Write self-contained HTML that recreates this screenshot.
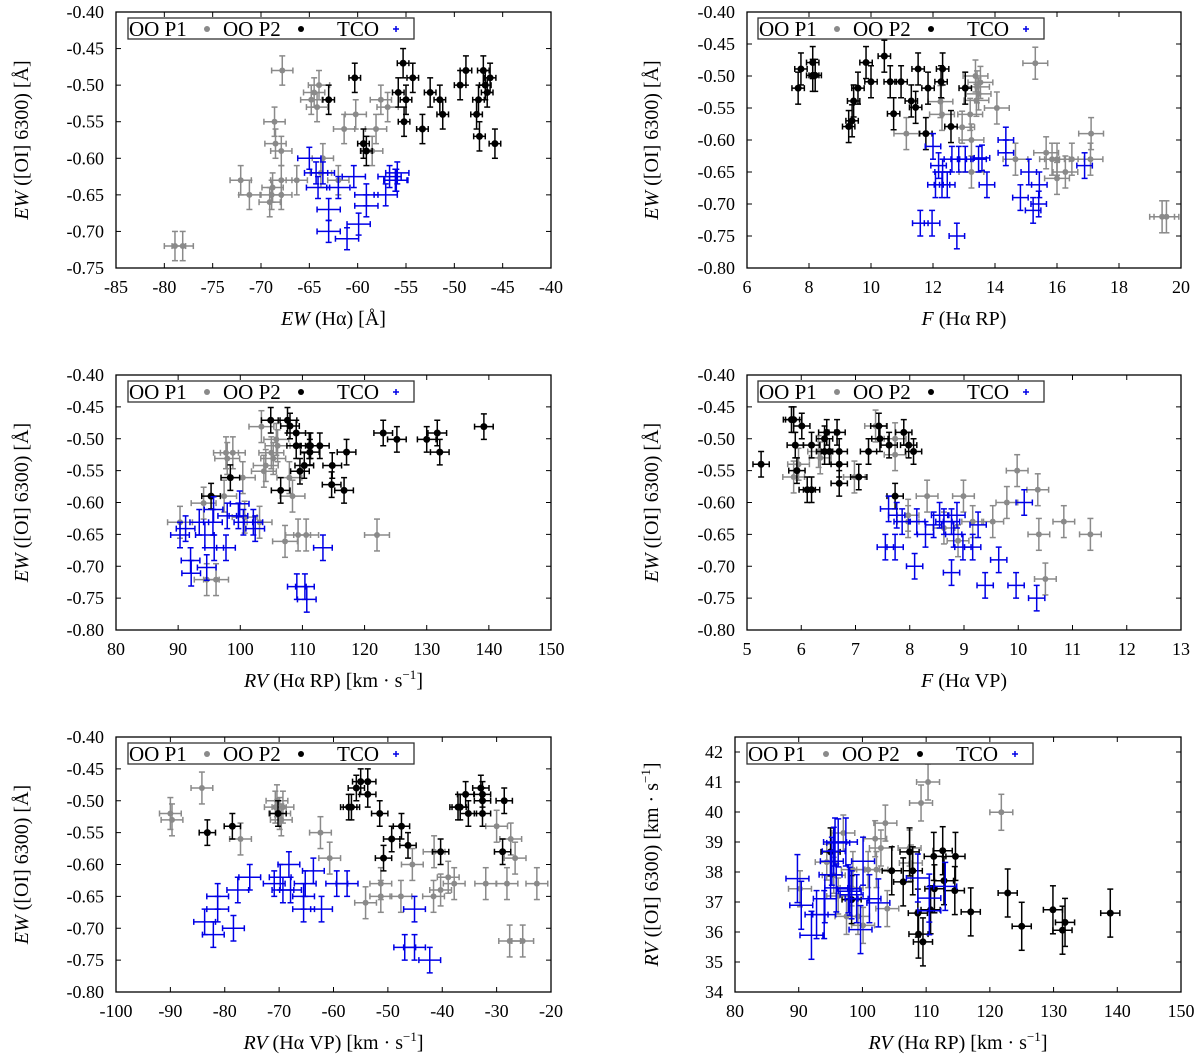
<!DOCTYPE html>
<html><head><meta charset="utf-8">
<style>
html,body{margin:0;padding:0;background:#fff;}
svg{display:block;font-family:"Liberation Serif",serif;}
</style></head>
<body>
<svg id="fig" width="1200" height="1056" viewBox="0 0 1200 1056" xmlns="http://www.w3.org/2000/svg"></svg>
<script>
// ---------- Panel 1: EW([OI]) vs EW(Ha) ----------
const p1GrayX=[-78.9,-78.1,-72.1,-71.2,-69.1,-68.9,-68.8,-68.5,-68.6,-67.9,-67.9,-67.9,-67.8,-66.3,-64.8,-64.5,-64.2,-64.0,-63.6,-63.8,-61.4,-60.2,-58.1,-57.6,-56.9,-58.5,-62.0];
const p1GrayY=[-0.72,-0.72,-0.63,-0.65,-0.66,-0.65,-0.64,-0.58,-0.55,-0.63,-0.59,-0.65,-0.48,-0.63,-0.52,-0.51,-0.53,-0.50,-0.60,-0.62,-0.56,-0.54,-0.56,-0.52,-0.53,-0.59,-0.63];
const p1BlackX=[-63.0,-60.3,-55.8,-55.3,-54.3,-55.0,-55.2,-53.3,-52.5,-51.5,-51.2,-59.4,-59.1,-49.4,-48.8,-47.7,-47.5,-47.4,-47.0,-46.8,-46.6,-46.3,-45.8];
const p1BlackY=[-0.52,-0.49,-0.51,-0.47,-0.49,-0.52,-0.55,-0.56,-0.51,-0.52,-0.54,-0.58,-0.59,-0.50,-0.48,-0.54,-0.52,-0.57,-0.48,-0.50,-0.51,-0.49,-0.58];
const p1BlueX=[-65.0,-64.1,-64.3,-63.6,-63.0,-63.0,-62.0,-61.1,-60.4,-59.9,-59.1,-59.1,-57.1,-56.7,-56.0,-56.1,-55.9];
const p1BlueY=[-0.60,-0.64,-0.62,-0.62,-0.67,-0.70,-0.64,-0.71,-0.625,-0.69,-0.65,-0.665,-0.65,-0.625,-0.63,-0.63,-0.62];
// ---------- Panel 2: EW([OI]) vs F(Ha RP) ----------
const p2BlackX=[7.65,7.74,8.12,8.12,8.2,9.28,9.39,9.44,9.58,9.84,10.0,10.43,10.62,10.73,10.97,11.3,11.44,11.52,11.77,11.84,12.26,12.31,12.58,13.04];
const p2BlackY=[-0.519,-0.489,-0.479,-0.499,-0.499,-0.579,-0.57,-0.539,-0.519,-0.479,-0.509,-0.469,-0.509,-0.559,-0.509,-0.539,-0.549,-0.489,-0.59,-0.519,-0.509,-0.489,-0.579,-0.519];
const p2GrayX=[11.14,12.24,12.29,12.94,13.2,13.24,13.24,13.37,13.42,13.47,13.53,14.06,14.66,15.3,15.65,15.84,16.0,16.0,16.27,16.48,17.08,17.1,19.39,19.53,13.4];
const p2GrayY=[-0.59,-0.54,-0.56,-0.58,-0.56,-0.60,-0.65,-0.50,-0.517,-0.528,-0.51,-0.55,-0.63,-0.48,-0.62,-0.63,-0.63,-0.66,-0.65,-0.63,-0.63,-0.59,-0.72,-0.72,-0.538];
const p2BlueX=[12.0,12.18,12.31,12.08,12.29,12.46,12.61,12.83,13.04,13.47,13.58,13.74,11.59,11.97,12.77,14.35,14.35,14.82,15.09,15.23,15.41,15.43,16.89];
const p2BlueY=[-0.61,-0.64,-0.65,-0.67,-0.67,-0.67,-0.63,-0.63,-0.63,-0.63,-0.628,-0.67,-0.73,-0.73,-0.75,-0.60,-0.62,-0.69,-0.65,-0.71,-0.70,-0.67,-0.64];
// ---------- Panel 3: EW([OI]) vs RV(Ha RP) ----------
const p3GrayX=[90.3,94.1,94.6,96.1,97.4,97.7,97.9,98.8,100.4,103.4,103.8,104.1,105.0,105.3,105.8,106.0,107.9,108.4,107.2,109.3,110.6,122.0,103.1,100.7];
const p3GrayY=[-0.631,-0.601,-0.721,-0.721,-0.59,-0.522,-0.531,-0.522,-0.561,-0.481,-0.551,-0.542,-0.522,-0.531,-0.501,-0.511,-0.561,-0.59,-0.661,-0.651,-0.651,-0.651,-0.631,-0.623];
const p3BlackX=[95.3,98.4,104.9,106.5,107.6,108.0,109.0,109.0,109.6,110.3,111.1,111.2,111.3,112.8,114.8,114.7,116.7,117.1,123.0,125.2,130.0,131.7,132.1,139.2];
const p3BlackY=[-0.59,-0.561,-0.471,-0.581,-0.471,-0.48,-0.491,-0.511,-0.551,-0.542,-0.511,-0.521,-0.511,-0.511,-0.542,-0.572,-0.581,-0.521,-0.491,-0.501,-0.501,-0.491,-0.521,-0.481];
const p3BlueX=[90.3,91.2,92.0,92.1,93.4,94.3,94.6,95.6,95.7,95.8,97.7,97.9,99.9,99.7,100.5,102.1,102.4,109.1,110.4,110.7,113.3];
const p3BlueY=[-0.651,-0.641,-0.691,-0.711,-0.631,-0.651,-0.702,-0.631,-0.611,-0.671,-0.671,-0.621,-0.602,-0.621,-0.631,-0.631,-0.641,-0.732,-0.732,-0.752,-0.671];
// ---------- Panel 4: EW([OI]) vs F(Ha VP) ----------
const p4BlackX=[5.26,5.82,5.86,5.89,5.92,6.01,6.11,6.19,6.19,6.43,6.43,6.47,6.52,6.66,6.70,6.70,6.70,7.06,7.24,7.43,7.45,7.62,7.73,7.89,7.98,8.07];
const p4BlackY=[-0.54,-0.47,-0.47,-0.51,-0.55,-0.48,-0.58,-0.51,-0.58,-0.50,-0.52,-0.49,-0.52,-0.49,-0.52,-0.54,-0.57,-0.56,-0.52,-0.48,-0.50,-0.51,-0.59,-0.49,-0.51,-0.52];
const p4GrayX=[5.86,5.95,6.32,6.35,6.98,7.37,7.73,7.73,7.97,7.97,8.32,8.63,8.89,8.99,9.16,9.53,9.79,9.98,10.36,10.38,10.5,10.84,11.33];
const p4GrayY=[-0.56,-0.54,-0.52,-0.53,-0.56,-0.48,-0.50,-0.525,-0.63,-0.62,-0.59,-0.64,-0.66,-0.59,-0.63,-0.63,-0.60,-0.55,-0.58,-0.65,-0.72,-0.63,-0.65];
const p4BlueX=[7.55,7.61,7.73,7.76,7.86,8.09,8.13,8.29,8.44,8.55,8.63,8.77,8.77,8.81,8.87,8.98,9.16,9.26,9.39,9.64,9.96,10.11,10.34];
const p4BlueY=[-0.67,-0.61,-0.67,-0.62,-0.63,-0.70,-0.63,-0.65,-0.635,-0.62,-0.63,-0.71,-0.63,-0.65,-0.62,-0.67,-0.67,-0.635,-0.73,-0.69,-0.73,-0.60,-0.75];
// ---------- Panel 5: EW([OI]) vs RV(Ha VP) ----------
const p5GrayX=[-90.0,-89.7,-84.2,-77.1,-70.7,-70.4,-69.9,-69.6,-69.3,-62.4,-60.7,-54.1,-51.3,-51.3,-47.6,-45.5,-41.6,-41.5,-40.3,-38.9,-37.8,-30.0,-32.0,-28.1,-27.4,-26.6,-27.6,-25.2,-22.6];
const p5GrayY=[-0.52,-0.53,-0.48,-0.56,-0.51,-0.50,-0.52,-0.53,-0.51,-0.55,-0.59,-0.66,-0.63,-0.65,-0.65,-0.60,-0.65,-0.58,-0.64,-0.62,-0.63,-0.54,-0.63,-0.63,-0.56,-0.59,-0.72,-0.72,-0.63];
const p5BlackX=[-83.2,-78.6,-70.2,-57.2,-56.7,-55.8,-55.0,-53.7,-53.7,-51.5,-49.3,-47.5,-46.3,-50.8,-40.3,-37.1,-36.7,-35.7,-35.2,-32.9,-32.6,-32.6,-32.6,-28.9,-28.6];
const p5BlackY=[-0.55,-0.54,-0.52,-0.51,-0.51,-0.48,-0.47,-0.47,-0.49,-0.52,-0.56,-0.54,-0.57,-0.59,-0.58,-0.51,-0.51,-0.49,-0.52,-0.48,-0.49,-0.50,-0.52,-0.58,-0.50];
const p5BlueX=[-83.7,-82.1,-81.3,-81.3,-78.4,-77.6,-75.4,-70.9,-69.8,-69.3,-68.2,-67.9,-65.5,-65.5,-65.2,-63.7,-62.2,-59.4,-57.5,-46.9,-45.1,-45.1,-42.3];
const p5BlueY=[-0.69,-0.71,-0.65,-0.67,-0.70,-0.64,-0.62,-0.63,-0.62,-0.64,-0.60,-0.64,-0.65,-0.67,-0.63,-0.61,-0.67,-0.63,-0.63,-0.73,-0.73,-0.67,-0.75];
// ---------- Panel 6: RV([OI]) vs RV(Ha RP) ----------
const p6GrayX=[90.2,94.4,95.5,97.0,97.5,98.5,99.3,100.1,100.9,102.0,102.2,102.9,103.6,103.9,107.4,107.6,109.2,110.3,121.8,96.2,98.3];
const p6GrayY=[37.44,38.33,37.89,39.3,36.52,38.08,36.52,36.22,38.08,39.11,38.08,38.8,39.63,36.78,38.8,38.3,40.3,41.0,39.99,37.2,37.47];
const p6BlackX=[95.0,98.3,104.6,106.4,107.4,107.9,108.7,108.8,109.5,110.7,111.2,111.3,112.6,112.8,114.5,114.6,117.0,122.8,125.0,129.9,131.4,131.8,138.9];
const p6BlackY=[38.67,37.08,38.04,37.67,38.67,38.04,36.63,35.93,35.67,36.74,38.52,37.44,38.71,37.71,37.38,38.52,36.67,37.3,36.19,36.74,36.06,36.32,36.63];
const p6BlueX=[89.8,90.4,92.0,92.8,94.0,94.1,95.0,95.2,95.5,95.7,95.9,96.2,97.4,97.8,98.0,98.3,99.1,99.7,100.1,101.1,102.5,108.7,110.5,110.5,113.0];
const p6BlueY=[37.78,36.89,35.89,36.58,36.58,37.11,37.91,38.36,38.69,39.0,37.47,38.97,39.0,37.44,37.36,37.24,37.11,36.08,38.36,37.11,36.97,37.8,37.13,36.71,37.52];

const GRAY='#8a8a8a', BLACK='#000', BLUE='#0000e6';
const NS='http://www.w3.org/2000/svg';
const svg=document.getElementById('fig');
function mk(tag,attrs,parent){const e=document.createElementNS(NS,tag);for(const k in attrs)e.setAttribute(k,attrs[k]);(parent||svg).appendChild(e);return e;}

function panel(id,cfg,series){
  const g=mk('g',{});
  
  
  const sx=v=>cfg.L+(v-cfg.x0)/(cfg.x1-cfg.x0)*(cfg.R-cfg.L);
  const sy=v=>cfg.B-(v-cfg.y0)/(cfg.y1-cfg.y0)*(cfg.B-cfg.T);
  for(let v=cfg.x0;v<=cfg.x1+1e-9;v+=cfg.xs){
    const x=sx(v);
    mk('line',{x1:x,y1:cfg.B,x2:x,y2:cfg.B-5,stroke:'#000','stroke-width':1},g);
    mk('line',{x1:x,y1:cfg.T,x2:x,y2:cfg.T+5,stroke:'#000','stroke-width':1},g);
    const t=mk('text',{x:x,y:cfg.B+25,'text-anchor':'middle','font-size':18},g);
    t.textContent=String(Math.round(v));
    
    
  }
  const nY=Math.round((cfg.yTop-cfg.y0)/cfg.ys);
  for(let i=0;i<=nY;i++){
    const v=cfg.y0+i*cfg.ys;const y=sy(v);
    mk('line',{x1:cfg.L,y1:y,x2:cfg.L+5,y2:y,stroke:'#000','stroke-width':1},g);
    mk('line',{x1:cfg.R,y1:y,x2:cfg.R-5,y2:y,stroke:'#000','stroke-width':1},g);
    const t=mk('text',{x:cfg.L-12,y:y+6,'text-anchor':'end','font-size':18},g);
    t.textContent=cfg.ydec?v.toFixed(2):String(Math.round(v));
    
    
  }
  for(const s of series){
    for(let i=0;i<s.x.length;i++){
      const x=sx(s.x[i]),y=sy(s.y[i]);
      const xl=sx(s.x[i]-s.xe),xr=sx(s.x[i]+s.xe),yt=sy(s.y[i]+s.ye),yb=sy(s.y[i]-s.ye);
      const pg=mk('g',{stroke:s.c,'stroke-width':1.5,fill:'none'},g);
      
      
      mk('line',{x1:xl,y1:y,x2:xr,y2:y},pg);
      mk('line',{x1:x,y1:yt,x2:x,y2:yb},pg);
      mk('line',{x1:xl,y1:y-3,x2:xl,y2:y+3},pg);
      mk('line',{x1:xr,y1:y-3,x2:xr,y2:y+3},pg);
      mk('line',{x1:x-3,y1:yt,x2:x+3,y2:yt},pg);
      mk('line',{x1:x-3,y1:yb,x2:x+3,y2:yb},pg);
      if(s.dot) mk('circle',{cx:x,cy:y,r:s.r,fill:s.c,stroke:'none'},pg);
    }
  }
  const fr=mk('rect',{x:cfg.L,y:cfg.T,width:cfg.R-cfg.L,height:cfg.B-cfg.T,fill:'none',stroke:'#000','stroke-width':1.3},g);
  
  
  const lx=cfg.lx, ly=cfg.T+6;
  const lg=mk('g',{},g);
  
  
  mk('rect',{x:lx,y:ly,width:286,height:21,fill:'#fff',stroke:'#333','stroke-width':1.3},lg);
  const items=[['OO P1',1,GRAY,79,'dot'],['OO P2',95,BLACK,173,'dot'],['TCO',209,BLUE,268,'plus']];
  for(const it of items){
    const t=mk('text',{x:lx+it[1],y:ly+18,'font-size':21},lg);
    t.textContent=it[0];
    
    
    if(it[4]==='dot') mk('circle',{cx:lx+it[3],cy:ly+11,r:3,fill:it[2]},lg);
    else{mk('line',{x1:lx+it[3]-3,y1:ly+11,x2:lx+it[3]+3,y2:ly+11,stroke:it[2],'stroke-width':1.5},lg);mk('line',{x1:lx+it[3],y1:ly+8,x2:lx+it[3],y2:ly+14,stroke:it[2],'stroke-width':1.5},lg);}
  }
  const xt=mk('text',{x:(cfg.L+cfg.R)/2,y:cfg.B+57,'text-anchor':'middle','font-size':20},g);
  xt.innerHTML=cfg.xt;
  
  
  const cy=(cfg.T+cfg.B)/2;
  const yt=mk('text',{x:cfg.ytx,y:cy,'text-anchor':'middle','font-size':20,transform:`rotate(-90 ${cfg.ytx} ${cy})`},g);
  yt.innerHTML=cfg.yt;
  
  
}
const EWY='<tspan font-style="italic">EW</tspan> ([OI] 6300)  [Å]';
const KMS='[km · s<tspan font-size="13" dy="-8">−1</tspan><tspan dy="8">]</tspan>';
function ser(name,x,y,c,xe,ye){return {name,x,y,c,xe,ye,dot:c!==BLUE,r:c===BLACK?3.5:3};}

panel('panel-ew-oi-vs-ew-ha',{L:116,R:551,T:12,B:268,x0:-85,x1:-40,xs:5,y0:-0.75,y1:-0.40,yTop:-0.40,ys:0.05,ydec:true,lx:128,ytx:28,
  xt:'<tspan font-style="italic">EW</tspan> (Hα)  [Å]',yt:EWY},
  [ser('oo-p1',p1GrayX,p1GrayY,GRAY,1.1,0.02),ser('oo-p2',p1BlackX,p1BlackY,BLACK,0.6,0.02),ser('tco',p1BlueX,p1BlueY,BLUE,1.2,0.015)]);
panel('panel-ew-oi-vs-f-rp',{L:747,R:1181,T:12,B:268,x0:6,x1:20,xs:2,y0:-0.80,y1:-0.40,yTop:-0.40,ys:0.05,ydec:true,lx:758,ytx:658,
  xt:'<tspan font-style="italic">F</tspan> (Hα RP)',yt:EWY},
  [ser('oo-p1',p2GrayX,p2GrayY,GRAY,0.4,0.025),ser('oo-p2',p2BlackX,p2BlackY,BLACK,0.2,0.025),ser('tco',p2BlueX,p2BlueY,BLUE,0.25,0.02)]);
panel('panel-ew-oi-vs-rv-rp',{L:116,R:551,T:375,B:630,x0:80,x1:150,xs:10,y0:-0.80,y1:-0.40,yTop:-0.40,ys:0.05,ydec:true,lx:128,ytx:28,
  xt:'<tspan font-style="italic">RV</tspan> (Hα RP)  '+KMS,yt:EWY},
  [ser('oo-p1',p3GrayX,p3GrayY,GRAY,2,0.025),ser('oo-p2',p3BlackX,p3BlackY,BLACK,1.5,0.02),ser('tco',p3BlueX,p3BlueY,BLUE,1.5,0.02)]);
panel('panel-ew-oi-vs-f-vp',{L:747,R:1181,T:375,B:630,x0:5,x1:13,xs:1,y0:-0.80,y1:-0.40,yTop:-0.40,ys:0.05,ydec:true,lx:758,ytx:658,
  xt:'<tspan font-style="italic">F</tspan> (Hα VP)',yt:EWY},
  [ser('oo-p1',p4GrayX,p4GrayY,GRAY,0.2,0.025),ser('oo-p2',p4BlackX,p4BlackY,BLACK,0.15,0.02),ser('tco',p4BlueX,p4BlueY,BLUE,0.15,0.02)]);
panel('panel-ew-oi-vs-rv-vp',{L:116,R:551,T:737,B:992,x0:-100,x1:-20,xs:10,y0:-0.80,y1:-0.40,yTop:-0.40,ys:0.05,ydec:true,lx:128,ytx:28,
  xt:'<tspan font-style="italic">RV</tspan> (Hα VP)  '+KMS,yt:EWY},
  [ser('oo-p1',p5GrayX,p5GrayY,GRAY,2,0.025),ser('oo-p2',p5BlackX,p5BlackY,BLACK,1.5,0.02),ser('tco',p5BlueX,p5BlueY,BLUE,2,0.02)]);
panel('panel-rv-oi-vs-rv-rp',{L:735,R:1181,T:737,B:992,x0:80,x1:150,xs:10,y0:34,y1:42.5,yTop:42,ys:1,ydec:false,lx:747,ytx:658,
  xt:'<tspan font-style="italic">RV</tspan> (Hα RP)  '+KMS,yt:'<tspan font-style="italic">RV</tspan> ([OI] 6300)  '+KMS},
  [ser('oo-p1',p6GrayX,p6GrayY,GRAY,1.8,0.6),ser('oo-p2',p6BlackX,p6BlackY,BLACK,1.5,0.8),ser('tco',p6BlueX,p6BlueY,BLUE,1.8,0.8)]);
</script>
</body></html>
